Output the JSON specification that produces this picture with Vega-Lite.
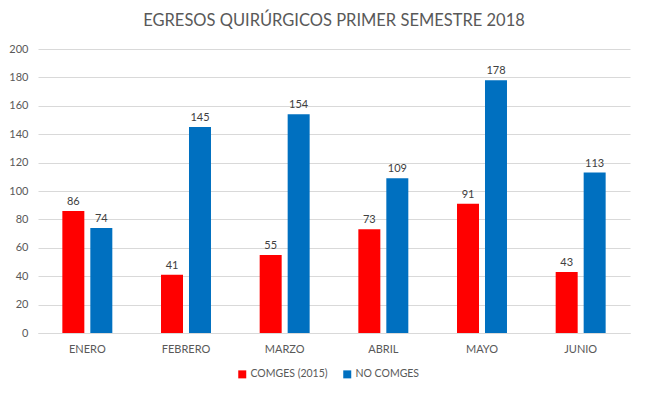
{
  "$schema": "https://vega.github.io/schema/vega-lite/v6.json",
  "width": 592,
  "height": 284,
  "autosize": {"type": "none"},
  "padding": {"left": 38, "top": 49, "right": 15, "bottom": 61},
  "background": "white",
  "config": {
    "font": "Lato",
    "view": {"stroke": null},
    "axis": {"labelFont": "Lato", "labelColor": "#595959", "labelFontSize": 11}
  },
  "title": {
    "text": "EGRESOS QUIRÚRGICOS PRIMER SEMESTRE 2018",
    "fontSize": 16.5,
    "fontWeight": "normal",
    "color": "#595959",
    "font": "Lato",
    "anchor": "middle",
    "offset": 14
  },
  "data": {
    "values": [
      {"mes": "ENERO", "serie": "COMGES (2015)", "valor": 86},
      {"mes": "ENERO", "serie": "NO COMGES", "valor": 74},
      {"mes": "FEBRERO", "serie": "COMGES (2015)", "valor": 41},
      {"mes": "FEBRERO", "serie": "NO COMGES", "valor": 145},
      {"mes": "MARZO", "serie": "COMGES (2015)", "valor": 55},
      {"mes": "MARZO", "serie": "NO COMGES", "valor": 154},
      {"mes": "ABRIL", "serie": "COMGES (2015)", "valor": 73},
      {"mes": "ABRIL", "serie": "NO COMGES", "valor": 109},
      {"mes": "MAYO", "serie": "COMGES (2015)", "valor": 91},
      {"mes": "MAYO", "serie": "NO COMGES", "valor": 178},
      {"mes": "JUNIO", "serie": "COMGES (2015)", "valor": 43},
      {"mes": "JUNIO", "serie": "NO COMGES", "valor": 113}
    ]
  },
  "encoding": {
    "x": {
      "field": "mes",
      "type": "nominal",
      "sort": ["ENERO", "FEBRERO", "MARZO", "ABRIL", "MAYO", "JUNIO"],
      "scale": {"paddingInner": 0, "paddingOuter": 0},
      "axis": {"title": null, "labelAngle": 0, "ticks": false, "domain": true, "domainColor": "#d9d9d9", "labelPadding": 10}
    },
    "xOffset": {
      "field": "serie",
      "type": "nominal",
      "scale": {"paddingInner": 0.214, "paddingOuter": 0.87}
    },
    "y": {
      "field": "valor",
      "type": "quantitative",
      "scale": {"domain": [0, 200]},
      "axis": {"title": null, "values": [0,20,40,60,80,100,120,140,160,180,200], "labelOverlap": false, "domain": false, "ticks": false, "gridColor": "#d9d9d9", "labelPadding": 10}
    }
  },
  "layer": [
    {
      "mark": {"type": "bar"},
      "encoding": {
        "color": {
          "field": "serie",
          "type": "nominal",
          "scale": {"domain": ["COMGES (2015)", "NO COMGES"], "range": ["#ff0000", "#0070c0"]},
          "legend": {
            "title": null,
            "orient": "none",
            "legendX": 199,
            "legendY": 320,
            "direction": "horizontal",
            "symbolType": "square",
            "symbolSize": 64,
            "labelFontSize": 10.5,
            "labelColor": "#595959",
            "labelFont": "Lato",
            "labelOffset": 3,
            "columnPadding": 14
          }
        }
      }
    },
    {
      "mark": {"type": "text", "dy": -9, "fontSize": 11, "color": "#404040", "font": "Lato"},
      "encoding": {"text": {"field": "valor", "type": "quantitative"}}
    }
  ]
}
